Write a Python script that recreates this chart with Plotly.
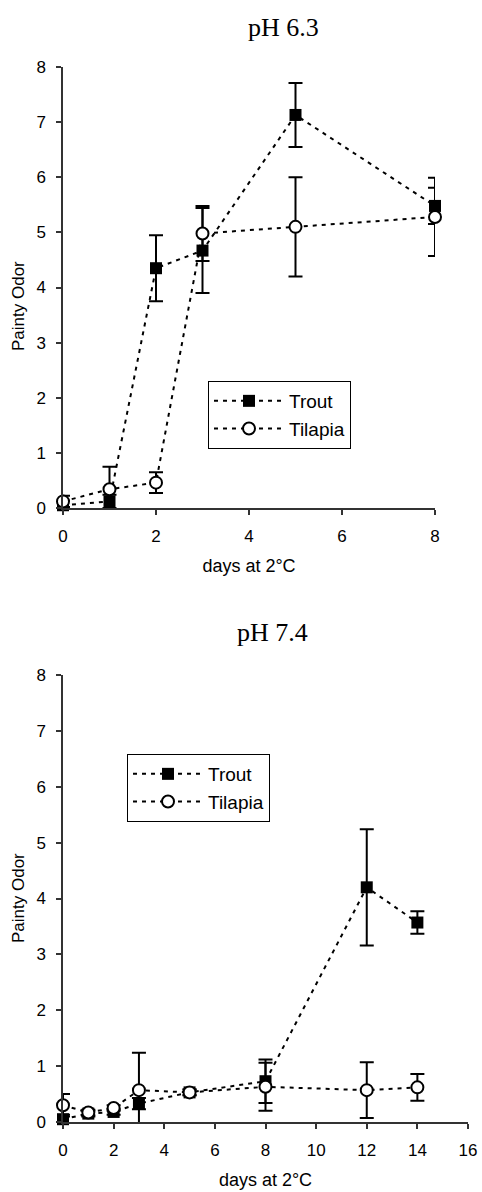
import plotly.graph_objects as go

# ---- data: pH 6.3 ----
days_a = [0, 1, 2, 3, 5, 8]
trout_a = [0.05, 0.12, 4.35, 4.67, 7.13, 5.48]
trout_a_err = [0.08, 0.12, 0.60, 0.77, 0.58, 0.33]
tilapia_a = [0.12, 0.34, 0.46, 4.98, 5.10, 5.28]
tilapia_a_err = [0.10, 0.41, 0.19, 0.50, 0.90, 0.71]

# ---- data: pH 7.4 ----
days_b = [0, 1, 2, 3, 5, 8, 12, 14]
trout_b = [0.05, 0.15, 0.18, 0.33, 0.53, 0.73, 4.20, 3.57]
trout_b_err = [0.08, 0.05, 0.05, 0.10, 0.05, 0.39, 1.04, 0.20]
tilapia_b = [0.30, 0.17, 0.25, 0.57, 0.53, 0.63, 0.57, 0.62]
tilapia_b_err = [0.20, 0.05, 0.05, 0.67, 0.05, 0.43, 0.50, 0.24]

titles = ["pH 6.3", "pH 7.4"]
xlab = "days at 2°C"
ylab = "Painty Odor"

AX = "#333333"
LINE = dict(color="black", width=2, dash="4px,5px")
ERR = dict(color="black", thickness=2, width=7)

fig = go.Figure()

def add(x, y, e, name, filled, xa, ya, leg):
    fig.add_trace(go.Scatter(
        x=x, y=y, name=name, mode="lines+markers",
        xaxis=xa, yaxis=ya, legend=leg, cliponaxis=False,
        line=LINE,
        marker=dict(symbol="square" if filled else "circle",
                    size=12,
                    color="black" if filled else "white",
                    line=dict(color="black", width=0 if filled else 2)),
        error_y=dict(type="data", array=e, visible=True, **ERR),
    ))

add(days_a, trout_a, trout_a_err, "Trout", True, "x", "y", "legend")
add(days_a, tilapia_a, tilapia_a_err, "Tilapia", False, "x", "y", "legend")
add(days_b, trout_b, trout_b_err, "Trout", True, "x2", "y2", "legend2")
add(days_b, tilapia_b, tilapia_b_err, "Tilapia", False, "x2", "y2", "legend2")

H = 1192.0
W = 482.0
TFONT = dict(family="Arial, Liberation Sans", size=17, color="black")
XFONT = dict(family="Arial, Liberation Sans", size=18, color="black")
YFONT = dict(family="Arial, Liberation Sans", size=17, color="black")

def xax(domain, rng, anchor):
    return dict(domain=domain, range=rng, anchor=anchor, dtick=2,
                automargin=False,
                showline=True, linecolor=AX, linewidth=1.5,
                ticks="outside", ticklen=5, tickcolor=AX, tickwidth=1.5,
                showgrid=False, zeroline=False, tickfont=TFONT,
                ticklabelstandoff=7,
                title=dict(text=xlab, font=XFONT, standoff=14))

def yax(domain, anchor):
    return dict(domain=domain, range=[0, 8], anchor=anchor, dtick=1,
                automargin=False,
                showline=True, linecolor=AX, linewidth=1.5,
                ticks="outside", ticklen=5, tickcolor=AX, tickwidth=1.5,
                showgrid=False, zeroline=False, tickfont=TFONT,
                ticklabelstandoff=7)

leg_common = dict(bgcolor="white", bordercolor="black", borderwidth=1,
                  font=dict(family="Arial, Liberation Sans", size=19, color="black"),
                  xanchor="left", yanchor="top", tracegroupgap=0, itemwidth=70)

title_font = dict(family="Liberation Serif, Times New Roman", size=26, color="black")

fig.update_layout(
    width=482, height=1192,
    margin=dict(l=0, r=0, t=0, b=0, autoexpand=False),
    paper_bgcolor="white", plot_bgcolor="white",
    showlegend=True,
    xaxis=xax([63 / W, 435 / W], [0, 8], "y"),
    yaxis=yax([1 - 508 / H, 1 - 67 / H], "x"),
    xaxis2=xax([63 / W, 468 / W], [0, 16], "y2"),
    yaxis2=yax([1 - 1122 / H, 1 - 675 / H], "x2"),
    legend=dict(x=208 / W, y=1 - 381 / H, **leg_common),
    legend2=dict(x=127 / W, y=1 - 754 / H, **leg_common),
    annotations=[
        dict(text=titles[0], x=283 / W, y=1 - 27 / H, xref="paper", yref="paper",
             xanchor="center", yanchor="middle", showarrow=False, font=title_font),
        dict(text=titles[1], x=272 / W, y=1 - 632 / H, xref="paper", yref="paper",
             xanchor="center", yanchor="middle", showarrow=False, font=title_font),
        dict(text=ylab, x=18 / W, y=1 - 306 / H, xref="paper", yref="paper",
             textangle=-90, xanchor="center", yanchor="middle", showarrow=False, font=YFONT),
        dict(text=ylab, x=18 / W, y=1 - 898 / H, xref="paper", yref="paper",
             textangle=-90, xanchor="center", yanchor="middle", showarrow=False, font=YFONT),
    ],
)

fig.write_html("out.html", config={"displayModeBar": False},
               post_script="document.body.style.margin='0';document.body.style.overflow='hidden';")
